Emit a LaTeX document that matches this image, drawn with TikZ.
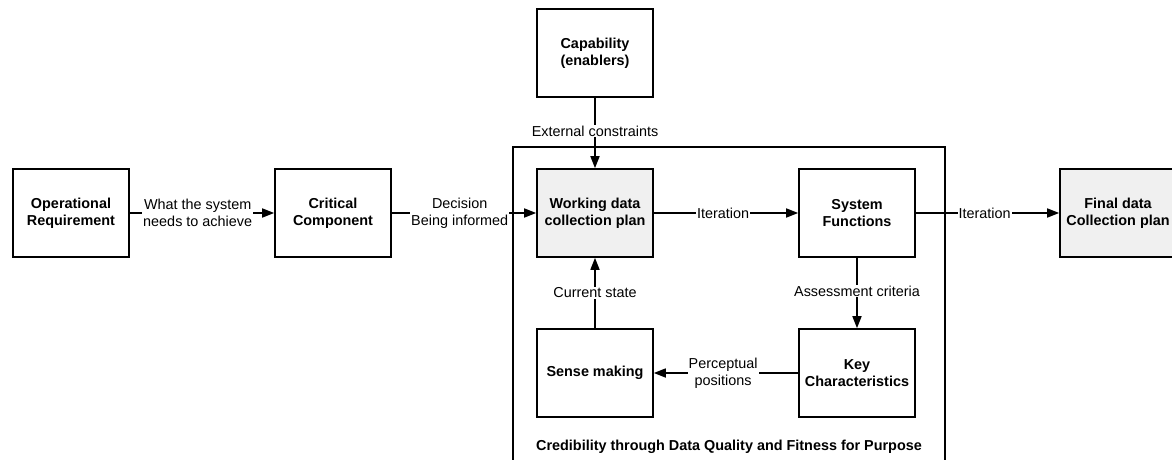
\documentclass[tikz,border=0pt]{standalone}
\usepackage{fontspec}
\setmainfont{Liberation Sans}
\usetikzlibrary{arrows.meta}
\definecolor{planfill}{RGB}{240,240,240}
\tikzset{
  box/.style={draw, line width=1.6pt, minimum width=116pt, minimum height=88pt,
    align=center, inner sep=2pt, font=\fontsize{14.4}{17}\selectfont\bfseries},
  plan/.style={box, fill=planfill},
  link/.style={line width=1.6pt, -{Triangle[length=12pt,width=9pt]}},
  lbl/.style={fill=white, inner sep=1pt, align=center,
    font=\fontsize{14.4}{17}\selectfont},
  frame/.style={line width=1.6pt}
}
\begin{document}
\begin{tikzpicture}[x=1pt,y=-1pt]
\useasboundingbox (0,0) rectangle (1172,459);

% process boundary
\draw[frame] (513,480) -- (513,147) -- (945,147) -- (945,480);
\node[font=\fontsize{14.4}{17}\selectfont\bfseries] (cred) at (729,447)
  {Credibility through Data Quality and Fitness for Purpose};

% boxes
\node[box]  (opreq) at (71,213)   {Operational\\Requirement};
\node[box]  (crit)  at (333,213)  {Critical\\Component};
\node[box]  (cap)   at (595,53)   {Capability\\(enablers)};
\node[plan] (work)  at (595,213)  {Working data\\collection plan};
\node[box]  (sf)    at (857,213)  {System\\Functions};
\node[box]  (sense) at (595,373)  {Sense making};
\node[box]  (key)   at (857,373)  {Key\\Characteristics};
\node[plan] (final) at (1118,213) {Final data\\Collection plan};

% connectors
\draw[link] (opreq) -- node[lbl, pos=0.47] {What the system\\needs to achieve} (crit);
\draw[link] (crit) -- node[lbl, pos=0.47] {Decision\\Being informed} (work);
\draw[link] (cap) -- node[lbl, pos=0.47] {External constraints} (work);
\draw[link] (work) -- node[lbl, pos=0.48] {Iteration} (sf);
\draw[link] (sf) -- node[lbl, pos=0.48] {Iteration} (final);
\draw[link] (sense) -- node[lbl] {Current state} (work);
\draw[link] (sf) -- node[lbl, pos=0.47] {Assessment criteria} (key);
\draw[link] (key) -- node[lbl, pos=0.52] {Perceptual\\positions} (sense);
\end{tikzpicture}
\end{document}
